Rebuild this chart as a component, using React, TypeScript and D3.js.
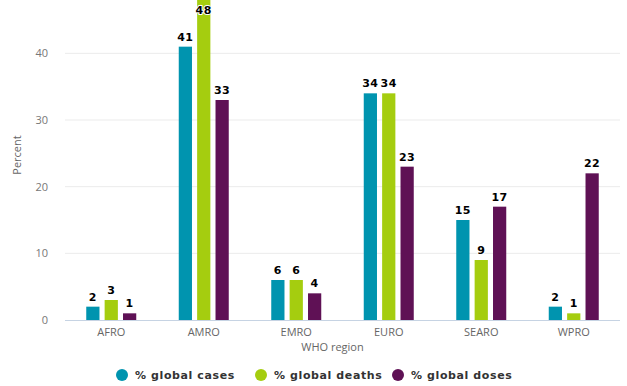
import React from 'react';
import * as d3 from 'd3';

const regions = ['AFRO', 'AMRO', 'EMRO', 'EURO', 'SEARO', 'WPRO'];
const cases = [2, 41, 6, 34, 15, 2];
const deaths = [3, 48, 6, 34, 9, 1];
const doses = [1, 33, 4, 23, 17, 22];
const yTicks = [0, 10, 20, 30, 40];
const seriesNames = ['% global cases', '% global deaths', '% global doses'];
const seriesColors = ['#0094AF', '#A5CD0F', '#5F1155'];

export default function App() {
  const width = 627;
  const height = 386;
  const margin = { top: 0, right: 7, bottom: 66, left: 65 };
  const innerW = width - margin.left - margin.right;
  const innerH = height - margin.top - margin.bottom;

  const x = d3.scaleBand().domain(regions).range([0, innerW]);
  const y = d3.scaleLinear().domain([0, 48]).range([innerH, 0]);
  const sub = d3.scaleBand().domain(['0', '1', '2']).range([0, 50]).paddingInner(0.28);
  const series = [cases, deaths, doses];

  return (
    <svg width={width} height={height} style={{ position: 'absolute', left: 0, top: 0, background: '#fff' }}>
      <defs>
        <clipPath id="plot"><rect x={0} y={0} width={innerW} height={innerH} /></clipPath>
      </defs>
      <g transform={`translate(${margin.left},${margin.top})`}>
        {yTicks.map(t => (
          <g key={t}>
            {t > 0 && <line x1={0} x2={innerW} y1={y(t)} y2={y(t)} stroke="#ebebeb" strokeWidth={1} />}
            <text x={-17} y={y(t) + 4} textAnchor="end" fontFamily="Open Sans, sans-serif" fontSize={11} fill="#777">{t}</text>
          </g>
        ))}
        <line x1={0} x2={innerW} y1={innerH + 0.5} y2={innerH + 0.5} stroke="#c6d3e3" strokeWidth={1} />
        <g clipPath="url(#plot)">
          {series.map((vals, si) => vals.map((v, i) => (
            <rect key={`${si}-${i}`}
              x={x(regions[i])! + x.bandwidth() / 2 - 25 + sub(String(si))!}
              y={y(v)} width={sub.bandwidth()} height={innerH - y(v)}
              fill={seriesColors[si]} />
          )))}
        </g>
        {series.map((vals, si) => vals.map((v, i) => {
          const cx = x(regions[i])! + x.bandwidth() / 2 - 25 + sub(String(si))! + sub.bandwidth() / 2;
          const ly = Math.max(y(v) - 6, 14);
          return (
            <text key={`l${si}-${i}`} x={cx} y={ly} textAnchor="middle"
              fontFamily="DejaVu Sans, sans-serif" fontWeight="bold" fontSize={11} fill="#000"
              stroke="#fff" strokeWidth={2} paintOrder="stroke" letterSpacing={0.5}>{v}</text>
          );
        }))}
        {regions.map(r => (
          <text key={r} x={x(r)! + x.bandwidth() / 2} y={innerH + 16} textAnchor="middle"
            fontFamily="Open Sans, sans-serif" fontSize={11} fill="#666">{r}</text>
        ))}
        <text x={innerW / 2 - 10} y={innerH + 31} textAnchor="middle"
          fontFamily="Open Sans, sans-serif" fontSize={11} fill="#666">WHO region</text>
      </g>
      <text transform={`translate(21,${155}) rotate(-90)`} textAnchor="middle"
        fontFamily="Open Sans, sans-serif" fontSize={11} fill="#666">Percent</text>
      {seriesNames.map((n, i) => {
        const lx = [122, 261, 398][i];
        return (
          <g key={n} transform={`translate(${lx},375)`}>
            <circle cx={0} cy={0} r={6} fill={seriesColors[i]} />
            <text x={13} y={4} fontFamily="DejaVu Sans, sans-serif" fontWeight="bold" fontSize={11} fill="#333" letterSpacing={0.6}>{n}</text>
          </g>
        );
      })}
    </svg>
  );
}
